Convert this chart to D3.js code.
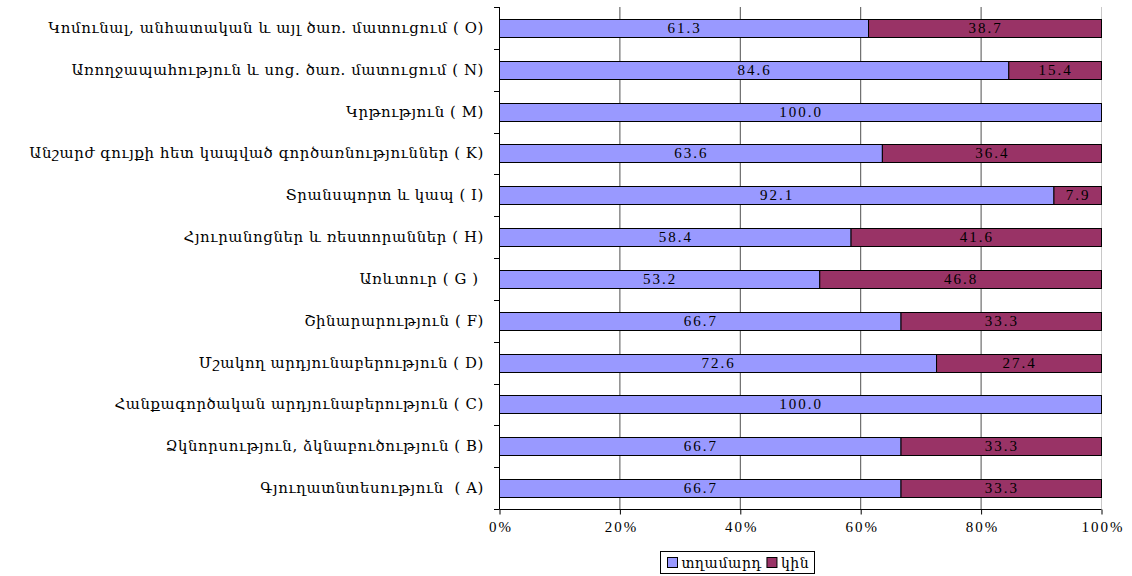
<!DOCTYPE html>
<html>
<head>
<meta charset="utf-8">
<script src="https://cdn.jsdelivr.net/npm/d3@7"></script>
<style>
  html, body { margin: 0; padding: 0; background: #fff; }
  svg text { white-space: pre; fill: #000; }
  .num { font-family: "Liberation Serif", "Times New Roman", serif; }
  .arm { font-family: "DejaVu Serif", "Liberation Serif", serif; }
</style>
</head>
<body>
<svg id="chart" width="1132" height="576"></svg>
<script>
// Branch categories, top to bottom
const categories = [
  "Կոմունալ, անհատական և այլ ծառ. մատուցում ( O)",
  "Առողջապահություն և սոց. ծառ. մատուցում ( N)",
  "Կրթություն ( M)",
  "Անշարժ գույքի հետ կապված գործառնություններ ( K)",
  "Տրանսպորտ և կապ ( I)",
  "Հյուրանոցներ և ռեստորաններ ( H)",
  "Առևտուր ( G ) ",
  "Շինարարություն ( F)",
  "Մշակող արդյունաբերություն ( D)",
  "Հանքագործական արդյունաբերություն ( C)",
  "Ձկնորսություն, ձկնաբուծություն ( B)",
  "Գյուղատնտեսություն  ( A)"
];
// Share of men (տղամարդ) and women (կին), percent
const menValues   = [61.3, 84.6, 100.0, 63.6, 92.1, 58.4, 53.2, 66.7, 72.6, 100.0, 66.7, 66.7];
const womenValues = [38.7, 15.4, 0.0, 36.4, 7.9, 41.6, 46.8, 33.3, 27.4, 0.0, 33.3, 33.3];
const seriesNames = ["տղամարդ", "կին"];
const seriesColors = ["#9999FF", "#993366"];
const xTicks = [0, 20, 40, 60, 80, 100];

const svg = d3.select("#chart");
const margin = { left: 499, right: 31, top: 7, bottom: 67 };
const W = 1132, H = 576;

const x = d3.scaleLinear().domain([0, 100]).range([margin.left, W - margin.right]);
const y = d3.scaleBand().domain(categories).range([margin.top, H - margin.bottom]).paddingInner(0.57).paddingOuter(0.285);
const yRow = d3.scaleBand().domain(categories).range([margin.top, H - margin.bottom]);

// vertical gridlines
svg.append("g").selectAll("line").data(xTicks.slice(1)).join("line")
  .attr("x1", d => x(d) + 0.5).attr("x2", d => x(d) + 0.5)
  .attr("y1", margin.top).attr("y2", H - margin.bottom)
  .attr("stroke", d => d === 100 ? "#c8c8c8" : "#505050")
  .attr("stroke-width", 1);

// stacked bars
const rows = categories.map((c, i) => ({ cat: c, vals: [menValues[i], womenValues[i]] }));
const stacked = d3.stack().keys([0, 1]).value((d, k) => d.vals[k])(rows);

const layers = svg.append("g").selectAll("g").data(stacked).join("g")
  .attr("fill", (d, i) => seriesColors[i]);

layers.selectAll("rect").data(d => d.filter(p => p[1] - p[0] > 0)).join("rect")
  .attr("x", d => x(d[0]) + 0.5)
  .attr("y", d => Math.round(y(d.data.cat)) + 0.5)
  .attr("width", d => x(d[1]) - x(d[0]))
  .attr("height", Math.round(y.bandwidth()))
  .attr("stroke", "#000").attr("stroke-width", 1);

// value labels
layers.selectAll("text").data(d => d.filter(p => p[1] - p[0] > 0)).join("text")
  .attr("class", "num")
  .attr("x", d => (x(d[0]) + x(d[1])) / 2 + 1)
  .attr("y", d => Math.round(y(d.data.cat)) + y.bandwidth() / 2 + 1.5)
  .attr("text-anchor", "middle")
  .attr("dominant-baseline", "middle")
  .attr("font-size", 15)
  .attr("letter-spacing", 2)
  .text(d => (d[1] - d[0]).toFixed(1));

// category axis
const yAxisG = svg.append("g");
yAxisG.append("line")
  .attr("x1", margin.left + 0.5).attr("x2", margin.left + 0.5)
  .attr("y1", margin.top).attr("y2", H - margin.bottom + 0.5)
  .attr("stroke", "#000");
const bounds = categories.map(c => yRow(c)).concat([H - margin.bottom]);
yAxisG.selectAll("line.tick").data(bounds).join("line").attr("class", "tick")
  .attr("x1", margin.left - 5).attr("x2", margin.left)
  .attr("y1", d => Math.round(d) + 0.5).attr("y2", d => Math.round(d) + 0.5)
  .attr("stroke", "#000");
const catLabels = yAxisG.selectAll("text").data(categories).join("text")
  .attr("class", "arm")
  .attr("x", margin.left - 15)
  .attr("y", d => yRow(d) + yRow.bandwidth() / 2 + 1)
  .attr("text-anchor", "end")
  .attr("dominant-baseline", "middle")
  .attr("font-size", 13)
  .attr("letter-spacing", 0.6)
  .text(d => d);
// size the category font so the first label spans the left gutter
const firstWidth = catLabels.nodes()[0].getComputedTextLength();
const catSize = Math.max(10, Math.min(16, 13 * 440 / firstWidth));
catLabels.attr("font-size", catSize);

// percent axis
const xAxis = d3.axisBottom(x).tickValues(xTicks).tickSize(5).tickFormat(d => d + "%");
const xAxisG = svg.append("g")
  .attr("transform", `translate(0.5,${H - margin.bottom + 0.5})`)
  .call(xAxis);
xAxisG.select(".domain").attr("d", `M${margin.left},0H${W - margin.right}`).attr("stroke", "#000");
xAxisG.selectAll(".tick line").attr("stroke", "#000");
xAxisG.selectAll(".tick text")
  .attr("class", "num")
  .attr("x", 1)
  .attr("y", 12)
  .attr("font-size", 15)
  .attr("letter-spacing", 2)
  .attr("fill", "#000");

// legend, laid out from the measured item widths and centred under the plot
const lg = svg.append("g");
const lgBox = lg.append("rect").attr("height", 22).attr("fill", "#fff").attr("stroke", "#000");
let cursor = 7;
seriesNames.forEach((n, i) => {
  lg.append("rect").attr("x", cursor).attr("y", 6).attr("width", 10).attr("height", 10)
    .attr("fill", seriesColors[i]).attr("stroke", "#000");
  const t = lg.append("text").attr("class", "arm").attr("x", cursor + 14).attr("y", 12)
    .attr("dominant-baseline", "middle").attr("font-size", 14).attr("letter-spacing", 0.6).text(n);
  cursor += 14 + t.node().getComputedTextLength() + 5;
});
const lgWidth = Math.round(cursor);
lgBox.attr("width", lgWidth);
lg.attr("transform", `translate(${Math.round(737 - lgWidth / 2) + 0.5},551.5)`);
</script>
</body>
</html>
